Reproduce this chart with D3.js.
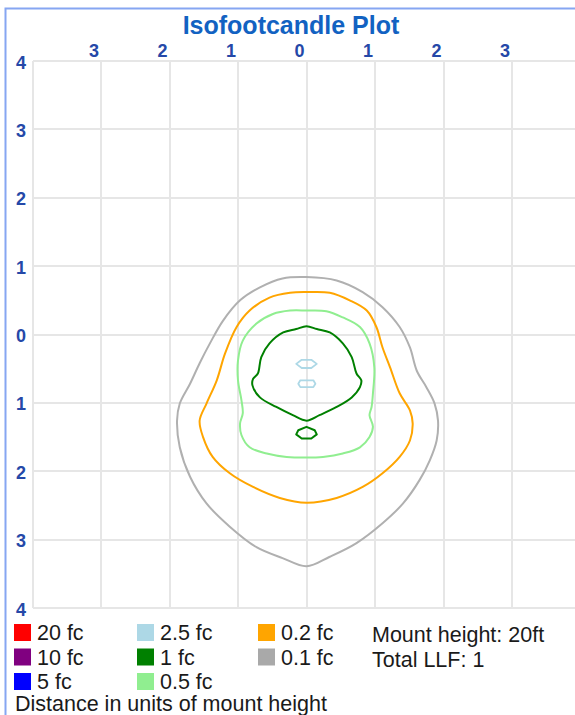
<!DOCTYPE html>
<html>
<head>
<meta charset="utf-8">
<title>Isofootcandle Plot</title>
<script src="https://d3js.org/d3.v7.min.js"></script>
<style>
  body { margin: 0; background: #fff; }
  svg { display: block; }
</style>
</head>
<body>
<svg width="575" height="715"></svg>
<script>
// ticks shown on the axes (absolute distance in mount heights)
const xTicks = [-3, -2, -1, 0, 1, 2, 3];
const yTicks = [4, 3, 2, 1, 0, -1, -2, -3, -4];

// legend entries
const legendLabels = ['20 fc', '10 fc', '5 fc', '2.5 fc', '1 fc', '0.5 fc', '0.2 fc', '0.1 fc'];
const legendColors = ['#ff0000', '#800080', '#0000ff', '#add8e6', '#008000', '#90ee90', '#ffa500', '#a9a9a9'];
const infoLines = ['Mount height: 20ft', 'Total LLF: 1'];

// contour outlines, [x, y] in units of mount height (y up)
const contour01 = [[0,0.84],[0.44,0.79],[0.82,0.62],[1.11,0.40],[1.36,0.11],[1.51,-0.19],[1.61,-0.53],[1.75,-0.77],
  [1.87,-1.01],[1.92,-1.26],[1.90,-1.55],[1.80,-1.84],[1.65,-2.13],[1.41,-2.47],[1.11,-2.76],[0.73,-3.05],[0.34,-3.25],
  [0,-3.39],[-0.35,-3.27],[-0.73,-3.11],[-1.12,-2.81],[-1.46,-2.47],[-1.70,-2.08],[-1.85,-1.65],[-1.89,-1.26],
  [-1.85,-1.01],[-1.70,-0.72],[-1.56,-0.42],[-1.41,-0.13],[-1.22,0.20],[-0.97,0.50],[-0.68,0.69],[-0.35,0.82]];
const contour02 = [[0,0.62],[0.34,0.61],[0.63,0.50],[0.88,0.35],[1.02,0.11],[1.11,-0.19],[1.22,-0.48],[1.36,-0.86],
  [1.51,-1.11],[1.55,-1.30],[1.51,-1.55],[1.36,-1.79],[1.11,-2.03],[0.82,-2.23],[0.44,-2.39],[0,-2.46],[-0.39,-2.39],
  [-0.78,-2.23],[-1.12,-2.03],[-1.37,-1.79],[-1.51,-1.50],[-1.56,-1.26],[-1.46,-1.01],[-1.31,-0.67],[-1.19,-0.28],
  [-1.02,0.11],[-0.83,0.35],[-0.54,0.54],[-0.24,0.61]];
const contour05 = [[0,0.35],[0.29,0.34],[0.53,0.25],[0.78,0.11],[0.92,-0.13],[0.99,-0.48],[0.97,-0.86],[0.95,-1.06],
  [0.92,-1.18],[0.97,-1.35],[0.92,-1.50],[0.78,-1.65],[0.53,-1.74],[0.24,-1.79],[0,-1.80],[-0.29,-1.79],[-0.58,-1.74],
  [-0.83,-1.65],[-0.95,-1.47],[-0.97,-1.30],[-0.93,-1.15],[-0.95,-0.96],[-1.00,-0.67],[-1.00,-0.38],[-0.93,-0.09],
  [-0.73,0.16],[-0.49,0.30],[-0.24,0.35]];
const contour1 = [[0,0.12],[0.15,0.08],[0.34,0.03],[0.53,-0.13],[0.66,-0.33],[0.73,-0.57],[0.80,-0.67],[0.78,-0.77],
  [0.66,-0.92],[0.44,-1.06],[0.19,-1.18],[0,-1.26],[-0.20,-1.18],[-0.44,-1.06],[-0.68,-0.92],[-0.79,-0.74],
  [-0.78,-0.65],[-0.71,-0.57],[-0.66,-0.33],[-0.54,-0.13],[-0.34,0.03],[-0.15,0.08]];
const contour1b = [[0,-1.35],[0.12,-1.40],[0.15,-1.46],[0.07,-1.52],[-0.07,-1.52],[-0.15,-1.46],[-0.12,-1.40]];
const contour25a = [[-0.07,-0.37],[0.07,-0.37],[0.15,-0.43],[0.07,-0.49],[-0.07,-0.49],[-0.15,-0.43]];
const contour25b = [[-0.09,-0.67],[0.10,-0.67],[0.13,-0.72],[0.10,-0.77],[-0.09,-0.77],[-0.12,-0.72]];

const contours = [
  {pts: contour01, color: '#b0b0b0', w: 2, smooth: true},
  {pts: contour02, color: '#ffa500', w: 2, smooth: true},
  {pts: contour05, color: '#90ee90', w: 2, smooth: true},
  {pts: contour1, color: '#008000', w: 2, smooth: true},
  {pts: contour1b, color: '#008000', w: 2, smooth: false},
  {pts: contour25a, color: '#add8e6', w: 1.8, smooth: false},
  {pts: contour25b, color: '#add8e6', w: 1.8, smooth: false}
];

const svg = d3.select('svg');

const x = d3.scaleLinear().domain([-4, 4]).range([32.5, 580.5]);
const y = d3.scaleLinear().domain([-4, 4]).range([608, 61]);

// outer panel border (blue, left and top)
svg.append('path')
  .attr('d', 'M5.5,715 L5.5,8.5 L575,8.5')
  .attr('fill', 'none')
  .attr('stroke', '#86a6f2')
  .attr('stroke-width', 2);

// title
svg.append('text')
  .attr('x', 291).attr('y', 34)
  .attr('text-anchor', 'middle')
  .style('font-family', '"Liberation Sans", Arial, sans-serif')
  .style('font-weight', 'bold')
  .style('font-size', '25px')
  .style('fill', '#1262c2')
  .text('Isofootcandle Plot');

// grid
const grid = svg.append('g').attr('stroke', '#e6e6e6').attr('stroke-width', 2);
grid.selectAll('line.v')
  .data(d3.range(-4, 5))
  .enter().append('line')
  .attr('x1', d => Math.round(x(d))).attr('x2', d => Math.round(x(d)))
  .attr('y1', Math.round(y(4))).attr('y2', Math.round(y(-4)));
grid.selectAll('line.h')
  .data(d3.range(-4, 5))
  .enter().append('line')
  .attr('class', 'h')
  .attr('x1', Math.round(x(-4))).attr('x2', Math.round(x(4)))
  .attr('y1', d => Math.round(y(d))).attr('y2', d => Math.round(y(d)));

// tick labels
const tickStyle = sel => sel
  .style('font-family', '"Liberation Sans", Arial, sans-serif')
  .style('font-weight', 'bold')
  .style('font-size', '18px')
  .style('fill', '#2548a8');

svg.selectAll('text.xt')
  .data(xTicks)
  .enter().append('text')
  .attr('class', 'xt')
  .attr('x', d => x(d) - 7)
  .attr('y', 57)
  .attr('text-anchor', 'middle')
  .call(tickStyle)
  .text(d => Math.abs(d));

svg.selectAll('text.yt')
  .data(yTicks)
  .enter().append('text')
  .attr('class', 'yt')
  .attr('x', 21)
  .attr('y', d => y(d) + 7.5)
  .attr('text-anchor', 'middle')
  .call(tickStyle)
  .text(d => Math.abs(d));

// contours
const smoothLine = d3.line()
  .x(d => x(d[0]))
  .y(d => y(d[1]))
  .curve(d3.curveCatmullRomClosed.alpha(0.5));
const straightLine = d3.line()
  .x(d => x(d[0]))
  .y(d => y(d[1]))
  .curve(d3.curveLinearClosed);

svg.append('g').selectAll('path')
  .data(contours)
  .enter().append('path')
  .attr('d', d => d.smooth ? smoothLine(d.pts) : straightLine(d.pts))
  .attr('fill', 'none')
  .attr('stroke', d => d.color)
  .attr('stroke-width', d => d.w)
  .attr('stroke-linejoin', 'round');

// legend
const legendFont = sel => sel
  .style('font-family', '"Liberation Sans", Arial, sans-serif')
  .style('font-size', '21.5px')
  .style('fill', '#1a1a1a');

const colX = [14, 137, 258];
const rowY = [624, 648.5, 673];

const items = svg.append('g').selectAll('g')
  .data(legendLabels)
  .enter().append('g')
  .attr('transform', (d, i) => `translate(${colX[Math.floor(i / 3)]},${rowY[i % 3]})`);

items.append('rect')
  .attr('width', 17).attr('height', 17)
  .attr('fill', (d, i) => legendColors[i]);

items.append('text')
  .attr('x', 23).attr('y', 16)
  .call(legendFont)
  .text(d => d);

svg.selectAll('text.info')
  .data(infoLines)
  .enter().append('text')
  .attr('class', 'info')
  .attr('x', 372)
  .attr('y', (d, i) => rowY[i] + 18)
  .call(legendFont)
  .text(d => d);

svg.append('text')
  .attr('x', 15).attr('y', 711)
  .call(legendFont)
  .text('Distance in units of mount height');
</script>
</body>
</html>
